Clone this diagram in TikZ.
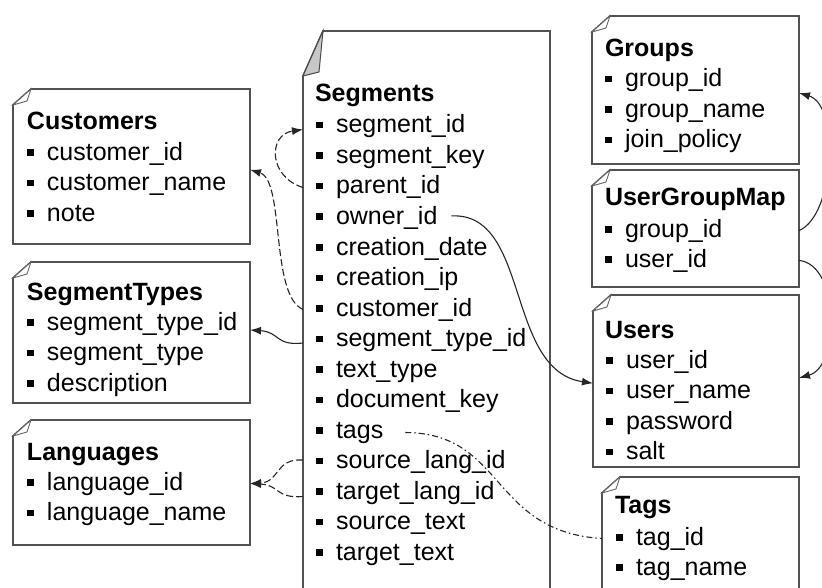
\documentclass[tikz,border=0pt]{standalone}
\usepackage{fontspec}
\setmainfont{Liberation Sans}
\usetikzlibrary{arrows.meta,calc}
\newcommand\fldsq{\rule[4.5pt]{6.5pt}{6.5pt}\hspace{13.5pt}}
\newcommand\tbloutline[6]{%
  \draw[boxline] ([yshift=-#3pt]#1.north west) -- ([xshift=#2pt]#1.north west) -- (#1.north east) -- (#1.south east) -- (#1.south west) -- cycle;
  \draw[#6] ([yshift=-#3pt]#1.north west) -- ([xshift=#2pt]#1.north west) -- ([xshift=#4pt,yshift=-#5pt]#1.north west) -- cycle;}
\tikzset{
  tbl/.style={anchor=north west, inner sep=0pt, outer sep=0pt, draw=none},
  boxline/.style={draw=black!68, line width=1.8pt, fill=white, line join=miter},
  smallflap/.style={draw=black!60, line width=0.9pt, fill=white},
  bigflap/.style={draw=black!70, line width=1pt, fill=black!22},
  fld/.style={anchor=base west, inner sep=0pt, outer sep=0pt, font=\fontsize{25pt}{30pt}\selectfont},
  ttl/.style={anchor=base west, inner sep=0pt, outer sep=0pt, font=\fontsize{25pt}{30pt}\selectfont\bfseries},
  conn/.style={draw=black!85, line width=1.1pt},
  fk/.style={conn, -{Latex[length=11pt,width=8pt]}},
  dsh/.style={dash pattern=on 7pt off 3pt},
  dshdot/.style={dash pattern=on 6pt off 3pt on 1.5pt off 3pt}
}
\begin{document}
\begin{tikzpicture}[x=1pt,y=-1pt]
\fill[white] (0,0) rectangle (822,588);
\useasboundingbox (0,0) rectangle (822,588);

% ---------- table boxes ----------
\node[tbl, minimum width=237pt, minimum height=155pt] (cust) at (13,89) {};
\node[tbl, minimum width=237pt, minimum height=141pt] (sty) at (13,262) {};
\node[tbl, minimum width=237pt, minimum height=125pt] (lang) at (13,420) {};
\node[tbl, minimum width=247pt, minimum height=580pt] (segs) at (303,31) {};
\node[tbl, minimum width=207pt, minimum height=148pt] (grp) at (592,16) {};
\node[tbl, minimum width=207pt, minimum height=117pt] (ugm) at (592,170) {};
\node[tbl, minimum width=206pt, minimum height=172pt] (usr) at (593,295) {};
\node[tbl, minimum width=197pt, minimum height=130pt] (tgs) at (602,477) {};

\tbloutline{cust}{18}{16}{14}{12}{smallflap}
\tbloutline{sty}{18}{16}{14}{12}{smallflap}
\tbloutline{lang}{18}{16}{14}{12}{smallflap}
\tbloutline{segs}{20}{45}{16}{41}{bigflap}
\tbloutline{grp}{18}{16}{14}{12}{smallflap}
\tbloutline{ugm}{18}{16}{14}{12}{smallflap}
\tbloutline{usr}{18}{16}{14}{12}{smallflap}
\tbloutline{tgs}{18}{16}{14}{12}{smallflap}

% ---------- Customers ----------
\node[ttl] (cust-t) at (27,130) {Customers};
\node[fld] (c0) at (27,160.5) {\fldsq customer\_id};
\node[fld] (c1) at (27,191) {\fldsq customer\_name};
\node[fld] (c2) at (27,221.5) {\fldsq note};

% ---------- SegmentTypes ----------
\node[ttl] (sty-t) at (27,300) {SegmentTypes};
\node[fld] (st0) at (27,330) {\fldsq segment\_type\_id};
\node[fld] (st1) at (27,360.5) {\fldsq segment\_type};
\node[fld] (st2) at (27,391) {\fldsq description};

% ---------- Languages ----------
\node[ttl] (lang-t) at (27,460) {Languages};
\node[fld] (l0) at (27,490) {\fldsq language\_id};
\node[fld] (l1) at (27,520.5) {\fldsq language\_name};

% ---------- Segments ----------
\node[ttl] (segs-t) at (315,102) {Segments};
\node[fld] (s0) at (316,133) {\fldsq segment\_id};
\node[fld] (s1) at (316,163.5) {\fldsq segment\_key};
\node[fld] (s2) at (316,194) {\fldsq parent\_id};
\node[fld] (s3) at (316,224.5) {\fldsq owner\_id};
\node[fld] (s4) at (316,255) {\fldsq creation\_date};
\node[fld] (s5) at (316,285.5) {\fldsq creation\_ip};
\node[fld] (s6) at (316,316) {\fldsq customer\_id};
\node[fld] (s7) at (316,346.5) {\fldsq segment\_type\_id};
\node[fld] (s8) at (316,377) {\fldsq text\_type};
\node[fld] (s9) at (316,407.5) {\fldsq document\_key};
\node[fld] (s10) at (316,438) {\fldsq tags};
\node[fld] (s11) at (316,468.5) {\fldsq source\_lang\_id};
\node[fld] (s12) at (316,499) {\fldsq target\_lang\_id};
\node[fld] (s13) at (316,529.5) {\fldsq source\_text};
\node[fld] (s14) at (316,560) {\fldsq target\_text};

% ---------- Groups ----------
\node[ttl] (grp-t) at (605,57) {Groups};
\node[fld] (g0) at (605,87) {\fldsq group\_id};
\node[fld] (g1) at (605,117.5) {\fldsq group\_name};
\node[fld] (g2) at (605,148) {\fldsq join\_policy};

% ---------- UserGroupMap ----------
\node[ttl] (ugm-t) at (605,206) {UserGroupMap};
\node[fld] (m0) at (605,237) {\fldsq group\_id};
\node[fld] (m1) at (605,267) {\fldsq user\_id};

% ---------- Users ----------
\node[ttl] (usr-t) at (605,338) {Users};
\node[fld] (u0) at (606,368) {\fldsq user\_id};
\node[fld] (u1) at (606,398.5) {\fldsq user\_name};
\node[fld] (u2) at (606,429) {\fldsq password};
\node[fld] (u3) at (606,459.5) {\fldsq salt};

% ---------- Tags ----------
\node[ttl] (tgs-t) at (615,513) {Tags};
\node[fld] (t0) at (616,545) {\fldsq tag\_id};
\node[fld] (t1) at (616,575) {\fldsq tag\_name};

% ---------- connectors ----------
% parent_id -> segment_id
\draw[fk,dsh] (segs.west |- s2) .. controls +(-35,-11) and +(-35,5) .. ($(segs.west |- s0)+(0,3)$);
% customer_id -> Customers
\draw[fk,dsh] (segs.west |- s6) .. controls +(-33,-14) and +(35,11) .. ($(cust.east |- c0)!0.5!(cust.east |- c1)$);
% segment_type_id -> SegmentTypes
\draw[fk] ($(segs.west |- s7)+(0,3)$) .. controls +(-28,3) and +(30,2) .. (sty.east |- st0.base);
% source/target lang -> Languages
\draw[fk,dsh] ($(segs.west |- s11)+(0,-2)$) .. controls +(-28,-2) and +(30,-1.5) .. (lang.east |- l0);
\draw[fk,dsh] ($(segs.west |- s12)+(0,4)$) .. controls +(-28,2) and +(30,1.5) .. (lang.east |- l0);
% owner_id -> Users
\draw[fk] ($(s3.east)+(14,-2)$) .. controls +(79,-4) and +(-88,-13) .. ($(usr.west |- u0.base)!0.5!(usr.west |- u1.base)$);
% UserGroupMap.group_id -> Groups
\draw[fk] (ugm.east |- m0) .. controls +(36,-15) and +(41,12) .. ($(grp.east |- g0.base)+(0,6)$);
% UserGroupMap.user_id -> Users
\draw[fk] (ugm.east |- m1) .. controls +(41,4) and +(41,-11) .. ($(usr.east |- u0)!0.5!(usr.east |- u1)$);
% tags -> Tags
\draw[conn,dshdot] ($(s10.east)+(22,0)$) .. controls +(100,0.5) and +(-112,-7) .. (tgs.west |- t0);
\end{tikzpicture}
\end{document}
